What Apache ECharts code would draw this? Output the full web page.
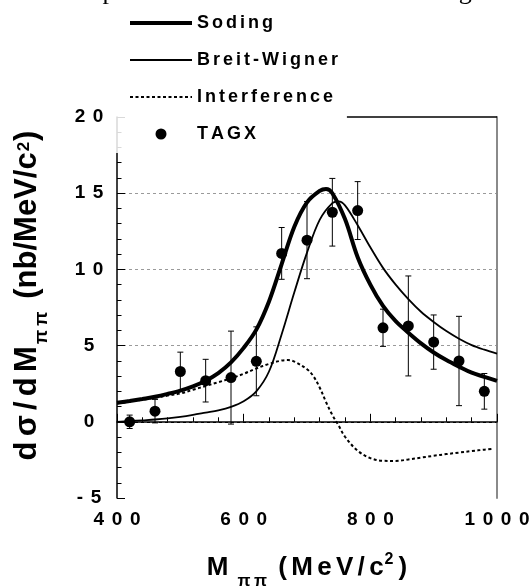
<!DOCTYPE html>
<html>
<head>
<meta charset="utf-8">
<script src="https://cdn.jsdelivr.net/npm/echarts@6/dist/echarts.min.js"></script>
<style>
html,body{margin:0;padding:0;background:#fff;}
#chart{width:530px;height:587px;}
</style>
</head>
<body>
<div id="chart"></div>
<script>
// ---- data ----
const curveMass = [400,420,440,460,480,500,520,540,560,580,600,620,640,660,680,700,720,730,740,760,780,800,820,840,860,880,900,920,940,960,980,1000];
const sodingValues = [1.25,1.37,1.5,1.64,1.83,2.05,2.33,2.7,3.2,3.9,4.85,6.05,7.9,10.35,12.8,14.4,15.15,15.28,15.0,13.3,10.8,9.0,7.6,6.6,5.85,5.15,4.55,4.05,3.62,3.22,2.95,2.68];

const bwMass = [400,420,440,460,480,500,520,540,560,580,600,620,640,660,680,700,720,740,750,760,780,800,820,840,860,880,900,920,940,960,980,1000];
const bwValues = [0.0,0.05,0.1,0.15,0.22,0.32,0.45,0.6,0.75,0.98,1.35,2.0,3.3,5.75,8.5,11.1,13.25,14.35,14.47,14.2,12.9,11.45,10.1,9.0,8.05,7.22,6.55,5.95,5.45,5.03,4.73,4.48];

const intMass = [400,420,440,460,480,500,520,540,560,580,600,620,640,660,670,680,700,710,720,730,740,750,760,780,800,820,840,860,880,900,920,940,960,980,995];
const intValues = [1.2,1.32,1.45,1.58,1.72,1.86,2.1,2.35,2.6,2.85,3.15,3.5,3.8,4.02,4.05,3.95,3.45,3.0,2.25,1.3,0.45,-0.25,-0.98,-1.9,-2.38,-2.56,-2.57,-2.47,-2.35,-2.23,-2.12,-2.02,-1.92,-1.83,-1.76];

const tagxMass  = [420,460,500,540,580,620,660,700,740,780,820,860,900,940,980];
const tagxValue = [0.0,0.7,3.3,2.7,2.9,3.97,11.05,11.92,13.75,13.86,6.17,6.29,5.23,3.99,2.0];
const tagxError = [0.44,0.77,1.27,1.4,3.05,2.26,1.7,2.53,2.22,1.9,1.22,3.28,1.78,2.93,1.17];

const xTicks = {min: 400, max: 1000, step: 200};
const yTicks = {min: -5, max: 20, step: 5};
const seriesNames = ['Soding', 'Breit-Wigner', 'Interference', 'TAGX'];

// ---- helpers ----
const zip = (xs, ys) => xs.map((x, i) => [x, ys[i]]);
const spaced = (s, sp) => String(s).split('').join(sp);
const TS = '\u2009';
const SS = '\u2006';
const FONT = '"Liberation Sans", Arial, sans-serif';
const SERIF = '26px "Liberation Serif", "Times New Roman", serif';

const chart = echarts.init(document.getElementById('chart'), null, {renderer: 'canvas'});

const bold = (size, extra) => Object.assign({fontSize: size, fontWeight: 'bold', color: '#000', fontFamily: FONT}, extra || {});
const hiddenSymbol = {color: 'rgba(0,0,0,0)', borderColor: 'rgba(0,0,0,0)', opacity: 0};

const sodingStyle = {color: '#000', width: 4};
const bwStyle = {color: '#000', width: 1.8};
const intStyle = {color: '#000', width: 2, type: [3, 2.5]};

const option = {
  animation: false,
  backgroundColor: '#fff',
  textStyle: {fontFamily: FONT},
  grid: {left: 117, right: 33, top: 117, bottom: 89, containLabel: false, outerBoundsMode: 'none'},
  graphic: [
    {type: 'text', x: -3, y: -21, z: 10, style: {text: 'σ', font: SERIF, fill: '#000'}},
    {type: 'text', x: 28, y: -21, z: 10, style: {text: 'meson production in', font: SERIF, fill: '#000'}},
    {type: 'text', x: 279, y: -21, z: 10, style: {text: 'ππ', font: SERIF, fill: '#000'}},
    {type: 'text', x: 312, y: -21, z: 10, style: {text: 'is shown in Fig. 1', font: SERIF, fill: '#000'}}
  ],
  legend: {
    orient: 'vertical',
    left: 114, top: 8,
    padding: [5, 4, 9, 14],
    backgroundColor: 'rgba(255,255,255,0.85)',
    itemWidth: 62, itemHeight: 11, itemGap: 17,
    data: [
      {name: seriesNames[0], itemStyle: hiddenSymbol, lineStyle: sodingStyle},
      {name: seriesNames[1], itemStyle: hiddenSymbol, lineStyle: bwStyle},
      {name: seriesNames[2], itemStyle: hiddenSymbol, lineStyle: intStyle},
      {name: seriesNames[3], icon: 'circle'}
    ],
    formatter: n => spaced(n, SS),
    textStyle: bold(18, {lineHeight: 20}),
    selectedMode: false
  },
  xAxis: {
    type: 'value', min: xTicks.min, max: xTicks.max, interval: xTicks.step,
    name: '{m|M}{s|π' + TS + 'π}{m| ' + spaced('(MeV/c', SS) + '}{p|2}{m|)}',
    nameLocation: 'middle', nameGap: 48, nameMoveOverlap: false,
    nameTextStyle: {
      rich: {
        m: bold(26, {lineHeight: 44, verticalAlign: 'middle'}),
        s: bold(17, {lineHeight: 17, verticalAlign: 'bottom', padding: [0, 4, 0, 9]}),
        p: bold(16, {lineHeight: 16, verticalAlign: 'top', padding: [6, 5, 0, 1]})
      }
    },
    axisLine: {lineStyle: {color: '#000', width: 1.5}},
    axisTick: {inside: true, length: 8, lineStyle: {color: '#000', width: 1}},
    minorTick: {show: true, splitNumber: 5, length: 4.5, lineStyle: {color: '#000', width: 1}},
    axisLabel: bold(19, {margin: 12, formatter: v => spaced(v, TS + TS)}),
    splitLine: {show: false}
  },
  yAxis: [{
    type: 'value', min: yTicks.min, max: yTicks.max, interval: yTicks.step, position: 'left',
    name: '{m|' + spaced('dσ/dM', SS) + '}{s|π' + TS + 'π}{m| (nb/MeV/c}{p|2}{m|)}',
    nameLocation: 'middle', nameRotate: 90, nameGap: 66, nameMoveOverlap: false,
    nameTextStyle: {
      padding: [0, 0, 0, 24],
      rich: {
        m: bold(31, {lineHeight: 48, verticalAlign: 'middle'}),
        s: bold(19, {lineHeight: 19, verticalAlign: 'bottom', padding: [0, 4, 0, 2]}),
        p: bold(17, {lineHeight: 17, verticalAlign: 'top', padding: [13, 1, 0, 1]})
      }
    },
    axisLine: {onZero: false, lineStyle: {color: '#000', width: 1.5}},
    axisTick: {inside: true, length: 8, lineStyle: {color: '#000', width: 1}},
    minorTick: {show: true, splitNumber: 5, length: 4.5, lineStyle: {color: '#000', width: 1}},
    axisLabel: bold(19, {margin: 28, align: 'center', formatter: v => spaced(v, TS + TS)}),
    splitLine: {show: true, lineStyle: {color: ['rgba(0,0,0,0)', '#000', '#9a9a9a', '#9a9a9a', '#9a9a9a', 'rgba(0,0,0,0)'], type: [3, 3], width: 1}}
  }, {
    type: 'value', min: yTicks.min, max: yTicks.max, interval: yTicks.step, position: 'right',
    axisLine: {show: true, onZero: false, lineStyle: {color: '#8a8a8a', width: 2}},
    axisTick: {show: false}, axisLabel: {show: false}, splitLine: {show: false}
  }],
  series: [{
    name: 'Soding', type: 'line', data: zip(curveMass, sodingValues),
    smooth: 0.35, symbol: 'none', z: 3,
    lineStyle: sodingStyle, itemStyle: {color: '#000'},
    markLine: {
      silent: true, symbol: ['none', 'none'], animation: false,
      label: {show: false},
      lineStyle: {color: '#000', width: 1.5, type: 'solid'},
      data: [[{coord: [763, yTicks.max]}, {coord: [xTicks.max, yTicks.max]}]]
    }
  }, {
    name: 'Breit-Wigner', type: 'line', data: zip(bwMass, bwValues),
    smooth: 0.35, symbol: 'none', z: 3,
    lineStyle: bwStyle, itemStyle: {color: '#000'}
  }, {
    name: 'Interference', type: 'line', data: zip(intMass, intValues),
    smooth: 0.35, symbol: 'none', z: 3,
    lineStyle: intStyle, itemStyle: {color: '#000'}
  }, {
    name: 'TAGX-err', type: 'custom', z: 4,
    data: tagxMass.map((m, i) => [m, tagxValue[i], tagxError[i]]),
    renderItem: (params, api) => {
      const x = api.value(0), y = api.value(1), e = api.value(2);
      const hi = api.coord([x, y + e]);
      const lo = api.coord([x, y - e]);
      const w = 3;
      const st = {stroke: '#000', lineWidth: 1};
      return {type: 'group', children: [
        {type: 'line', shape: {x1: hi[0], y1: hi[1], x2: lo[0], y2: lo[1]}, style: st},
        {type: 'line', shape: {x1: hi[0] - w, y1: hi[1], x2: hi[0] + w, y2: hi[1]}, style: st},
        {type: 'line', shape: {x1: lo[0] - w, y1: lo[1], x2: lo[0] + w, y2: lo[1]}, style: st}
      ]};
    }
  }, {
    name: 'TAGX', type: 'scatter', z: 5,
    data: zip(tagxMass, tagxValue),
    symbol: 'circle', symbolSize: 11, symbolKeepAspect: true,
    itemStyle: {color: '#000', opacity: 1}
  }]
};
chart.setOption(option);
</script>
</body>
</html>
